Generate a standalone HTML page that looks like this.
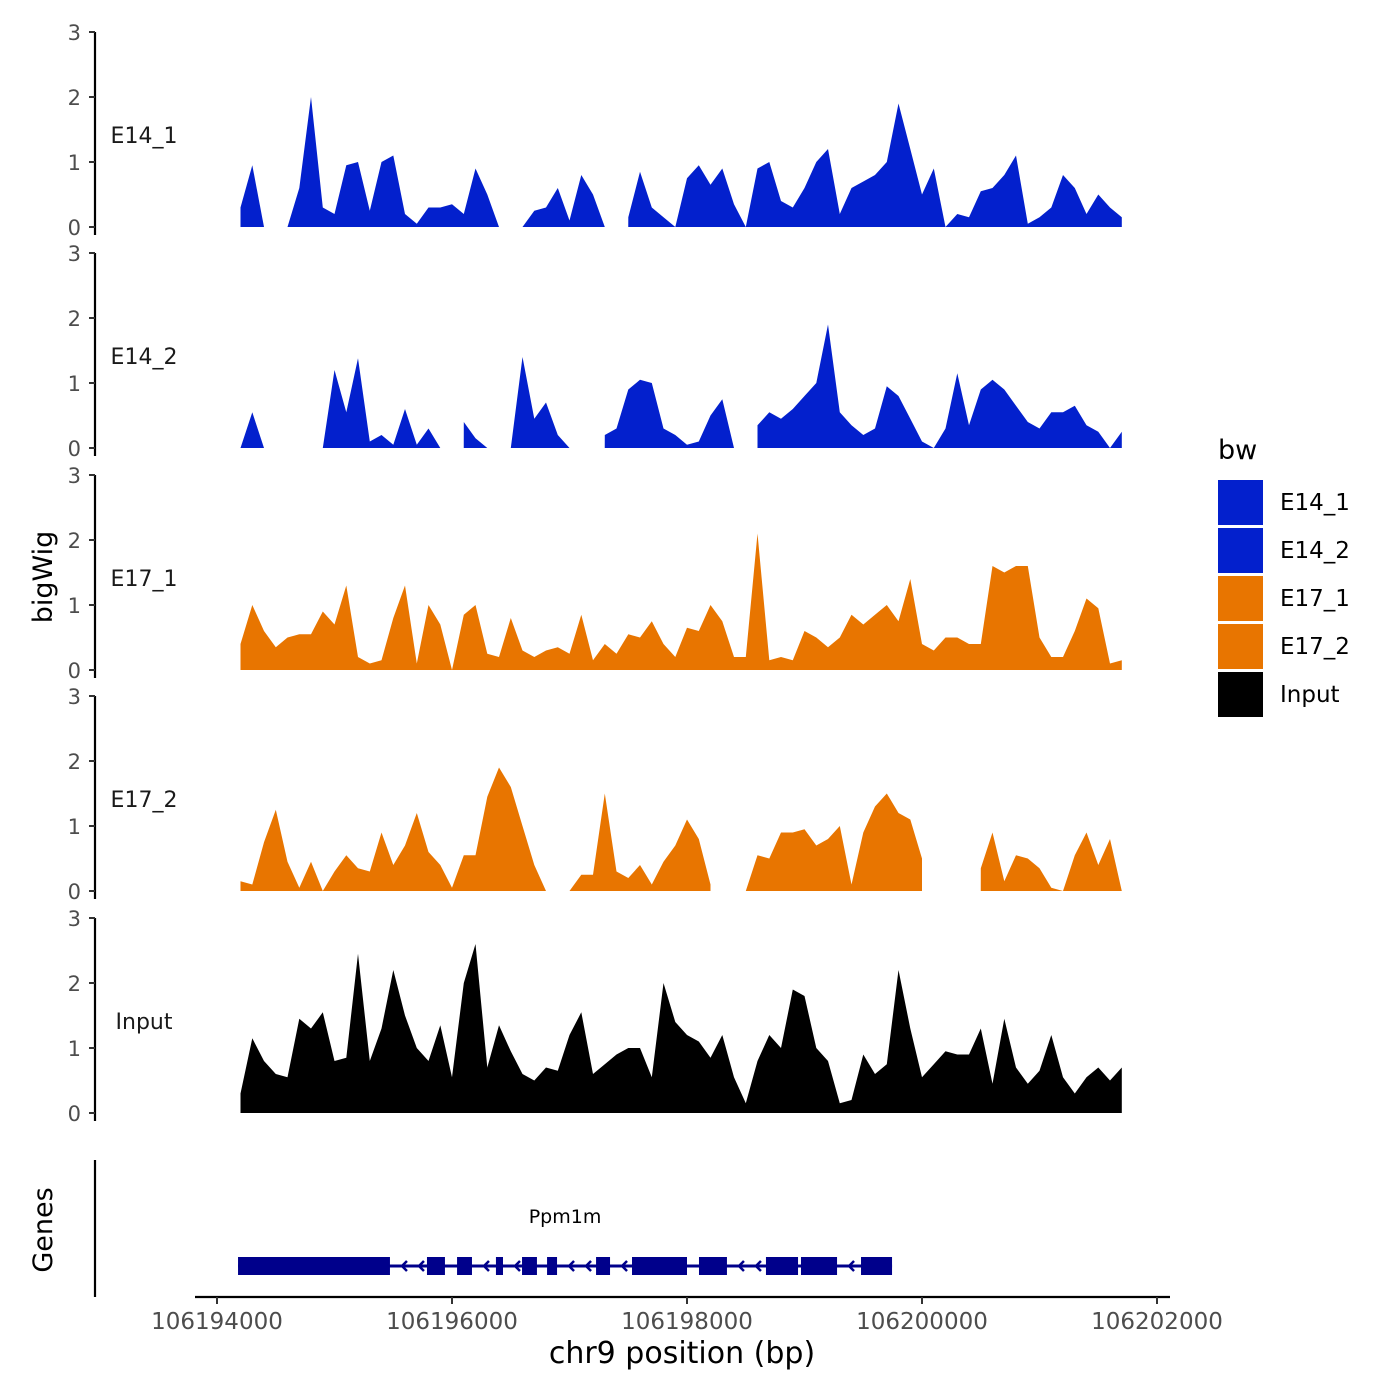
<!DOCTYPE html>
<html><head><meta charset="utf-8"><style>
html,body{margin:0;padding:0;background:#fff;}
svg{display:block;font-family:"DejaVu Sans","Liberation Sans",sans-serif;}
</style></head><body>
<svg id="chart" width="1400" height="1400" viewBox="0 0 1400 1400" xmlns="http://www.w3.org/2000/svg"></svg>
<script>
const trackNames = ["E14_1","E14_2","E17_1","E17_2","Input"];
const trackColors = ["#0320CD","#0320CD","#E87500","#E87500","#000000"];
const binStart = 106194200;
const binStep = 100;
const e14_1 = [0.3,0.95,0,null,0,0.6,2.0,0.3,0.2,0.95,1.0,0.25,1.0,1.1,0.2,0.05,0.3,0.3,0.35,0.2,0.9,0.5,0,null,0,0.25,0.3,0.6,0.1,0.8,0.5,0,null,0.15,0.85,0.3,0.15,0,0.75,0.95,0.65,0.9,0.35,0,0.9,1.0,0.4,0.3,0.6,1.0,1.2,0.2,0.6,0.7,0.8,1.0,1.9,1.2,0.5,0.9,0,0.2,0.15,0.55,0.6,0.8,1.1,0.05,0.15,0.3,0.8,0.6,0.2,0.5,0.3,0.15];
const e14_2 = [0,0.55,0,null,null,null,null,0,1.2,0.55,1.38,0.1,0.2,0.05,0.6,0.05,0.3,0,null,0.4,0.15,0,null,0,1.4,0.45,0.7,0.2,0,null,null,0.2,0.3,0.9,1.05,1.0,0.3,0.2,0.05,0.1,0.5,0.75,0,null,0.35,0.55,0.45,0.6,0.8,1.0,1.9,0.55,0.35,0.2,0.3,0.95,0.8,0.45,0.1,0,0.3,1.15,0.35,0.9,1.05,0.9,0.65,0.4,0.3,0.55,0.55,0.65,0.35,0.25,0,0.25];
const e17_1 = [0.4,1.0,0.6,0.35,0.5,0.55,0.55,0.9,0.7,1.3,0.2,0.1,0.15,0.8,1.3,0.1,1.0,0.7,0,0.85,1.0,0.25,0.2,0.8,0.3,0.2,0.3,0.35,0.25,0.85,0.15,0.4,0.25,0.55,0.5,0.75,0.4,0.2,0.65,0.6,1.0,0.75,0.2,0.2,2.1,0.15,0.2,0.15,0.6,0.5,0.35,0.5,0.85,0.7,0.85,1.0,0.75,1.4,0.4,0.3,0.5,0.5,0.4,0.4,1.6,1.5,1.6,1.6,0.5,0.2,0.2,0.6,1.1,0.95,0.1,0.15];
const e17_2 = [0.15,0.1,0.75,1.25,0.45,0.05,0.45,0,0.3,0.55,0.35,0.3,0.9,0.4,0.7,1.2,0.6,0.4,0.05,0.55,0.55,1.45,1.9,1.6,1.0,0.4,0,null,0,0.25,0.25,1.5,0.3,0.2,0.4,0.1,0.45,0.7,1.1,0.8,0.1,null,null,0,0.55,0.5,0.9,0.9,0.95,0.7,0.8,1.0,0.1,0.9,1.3,1.5,1.2,1.1,0.5,null,null,null,null,0.35,0.9,0.15,0.55,0.5,0.35,0.05,0,0.55,0.9,0.4,0.8,0];
const input = [0.3,1.15,0.8,0.6,0.55,1.45,1.3,1.55,0.8,0.85,2.45,0.8,1.3,2.2,1.5,1.0,0.8,1.35,0.55,2.0,2.6,0.7,1.35,0.95,0.6,0.5,0.7,0.65,1.2,1.55,0.6,0.75,0.9,1.0,1.0,0.55,2.0,1.4,1.2,1.1,0.85,1.2,0.55,0.15,0.8,1.2,1.0,1.9,1.8,1.0,0.8,0.15,0.2,0.9,0.6,0.75,2.2,1.3,0.55,0.75,0.95,0.9,0.9,1.3,0.45,1.45,0.7,0.45,0.65,1.2,0.55,0.3,0.55,0.7,0.5,0.7];
const trackValues = [e14_1,e14_2,e17_1,e17_2,input];
const yTicks = [0,1,2,3];
const xTicks = [106194000,106196000,106198000,106200000,106202000];
const exonStarts = [106194179,106195787,106196043,106196374,106196596,106196809,106197226,106197532,106198102,106198672,106198970,106199481];
const exonEnds   = [106195472,106195940,106196170,106196434,106196723,106196894,106197345,106198000,106198340,106198945,106199277,106199745];
const geneName = "Ppm1m";

const NS="http://www.w3.org/2000/svg";
const svg=document.getElementById('chart');
function el(tag,attrs,parent){const e=document.createElementNS(NS,tag);for(const k in attrs)e.setAttribute(k,attrs[k]);(parent||svg).appendChild(e);return e;}
const xScale=bp=>217+(bp-106194000)*940/8000;
const baselines=[227,448,670,891,1113];
const unit=65;
const yScale=(p,v)=>baselines[p]-v*unit;

for(let p=0;p<5;p++){
  const g=el('g',{});
  
  
  const vals=trackValues[p];
  let run=[];
  const flush=()=>{
    if(run.length){
      let d='M'+run[0][0]+','+baselines[p];
      run.forEach(q=>{d+=' L'+q[0].toFixed(1)+','+q[1].toFixed(1);});
      d+=' L'+run[run.length-1][0].toFixed(1)+','+baselines[p]+' Z';
      const a=el('path',{d:d,fill:trackColors[p]},g);
      
      
    }
    run=[];
  };
  vals.forEach((v,i)=>{
    if(v===null){flush();return;}
    run.push([xScale(binStart+i*binStep),yScale(p,v)]);
  });
  flush();
  const top=yScale(p,3), bot=baselines[p]+8;
  const ax=el('line',{x1:95,x2:95,y1:top,y2:bot,stroke:'#000','stroke-width':2.2},g);
  
  
  yTicks.forEach(t=>{
    const y=yScale(p,t);
    el('line',{x1:89,x2:95,y1:y,y2:y,stroke:'#333','stroke-width':2},g);
    const tx=el('text',{x:81,y:y+8,'text-anchor':'end','font-size':21,fill:'#4d4d4d'},g);
    tx.textContent=t;
    
    
  });
  const lb=el('text',{x:144,y:baselines[p]-84,'text-anchor':'middle','font-size':22,fill:'#1a1a1a'},g);
  lb.textContent=trackNames[p];
  
  
}

const yt=el('text',{x:0,y:0,transform:'translate(52,577) rotate(-90)','text-anchor':'middle','font-size':27,fill:'#000'});
yt.textContent='bigWig';



const gg=el('g',{});


const gAx=el('line',{x1:95,x2:95,y1:1160,y2:1297,stroke:'#000','stroke-width':2.2},gg);


const gt=el('text',{x:0,y:0,transform:'translate(52,1230) rotate(-90)','text-anchor':'middle','font-size':27,fill:'#000'},gg);
gt.textContent='Genes';


const gStart=xScale(exonStarts[0]), gEnd=xScale(exonEnds[exonEnds.length-1]);
el('line',{x1:gStart,x2:gEnd,y1:1266,y2:1266,stroke:'#00008B','stroke-width':3},gg);
for(let i=0;i<exonStarts.length;i++){
  const x0=xScale(exonStarts[i]),x1=xScale(exonEnds[i]);
  const r=el('rect',{x:x0,y:1257,width:x1-x0,height:18,fill:'#00008B'},gg);
  
  
  if(i<exonStarts.length-1){
    const nx=xScale(exonStarts[i+1]);
    for(let ax=x1+12;ax<nx-4;ax+=17){
      el('path',{d:'M'+(ax+5)+',1261 L'+ax+',1266 L'+(ax+5)+',1271',fill:'none',stroke:'#00008B','stroke-width':2.5},gg);
    }
  }
}
const gn=el('text',{x:(gStart+gEnd)/2,y:1223,'text-anchor':'middle','font-size':19,fill:'#000'},gg);
gn.textContent=geneName;



const xa=el('line',{x1:195,x2:1170,y1:1297,y2:1297,stroke:'#000','stroke-width':2.2});


xTicks.forEach(t=>{
  const x=xScale(t);
  el('line',{x1:x,x2:x,y1:1297,y2:1304,stroke:'#333','stroke-width':2});
  const tx=el('text',{x:x,y:1329,'text-anchor':'middle','font-size':23,fill:'#4d4d4d'});
  tx.textContent=t;
  
  
});
const xt=el('text',{x:682,y:1363,'text-anchor':'middle','font-size':30,fill:'#000'});
xt.textContent='chr9 position (bp)';



const lg=el('g',{});


const lt=el('text',{x:1218,y:459,'font-size':27,fill:'#000'},lg);
lt.textContent='bw';


trackNames.forEach((n,i)=>{
  const y=480+i*48;
  const k=el('rect',{x:1218,y:y,width:45,height:45,fill:trackColors[i]},lg);
  
  
  const t=el('text',{x:1280,y:y+30,'font-size':23,fill:'#000'},lg);
  t.textContent=n;
  
  
});
</script>
</body></html>
